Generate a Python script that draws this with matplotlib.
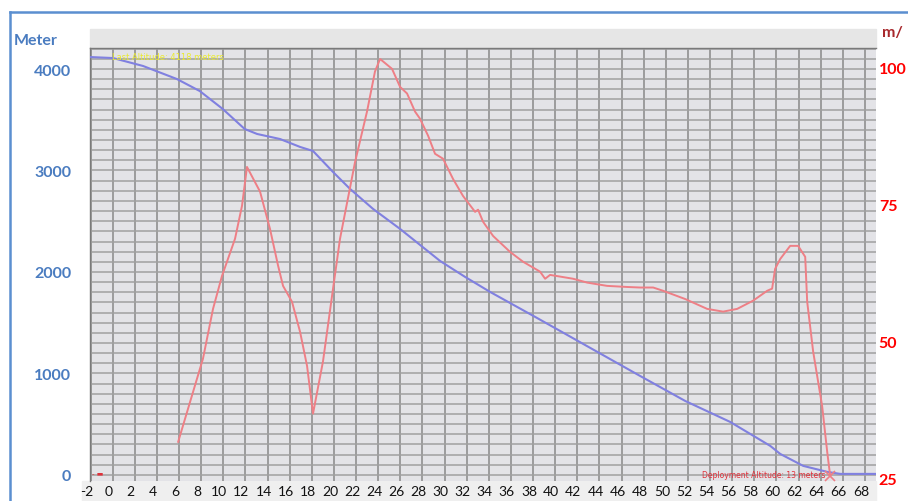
import matplotlib
matplotlib.use('Agg')
import matplotlib.pyplot as plt
from matplotlib.ticker import MultipleLocator, FixedLocator
import matplotlib.transforms as mtransforms
from matplotlib.patches import Rectangle
from matplotlib.lines import Line2D

# ---------------- data ----------------
alt_x = [-2.05, 0.03, 2.74, 5.81, 7.87, 9.95, 11.93, 13.05, 15.13, 16.94, 18.11,
         19.92, 21.46, 23.54, 25.98, 29.6, 31.86, 34.12, 38.19, 47.68, 51.75,
         55.82, 59.44, 60.34, 62.42, 64.59, 65.77, 69.0]
alt_m = [4118, 4108, 4030, 3901, 3783, 3606, 3409, 3360, 3310, 3232, 3192,
         2985, 2818, 2621, 2424, 2108, 1951, 1803, 1557, 975, 729,
         522, 286, 207, 89, 30, 10, 10]

spd_x = [5.92, 8.16, 9.07, 9.88, 11.06, 11.69, 12.14, 13.32, 14.22, 14.95, 15.40,
         16.21, 16.94, 17.57, 18.11, 19.01, 19.92, 20.55, 21.91, 22.99, 23.71,
         24.17, 24.89, 25.25, 25.98, 26.61, 27.33, 27.78, 28.51, 29.14, 29.86,
         30.77, 31.67, 32.76, 33.03, 33.48, 34.39, 35.92, 37.10, 38.63, 39.09,
         39.54, 41.62, 42.89, 44.69, 46.50, 47.68, 48.86, 49.76, 51.75, 53.74,
         55.18, 56.45, 57.89, 59.16, 59.61, 59.88, 60.34, 61.24, 61.96, 62.60,
         62.78, 63.32, 64.13, 64.59, 64.86]
spd_v = [31.75, 46.9, 56.0, 62.0, 68.8, 74.8, 81.9, 77.4, 70.6, 63.9, 60.2,
         57.3, 51.8, 45.6, 36.9, 46.4, 59.7, 68.8, 82.8, 92.0, 99.3,
         101.6, 100.4, 99.8, 96.5, 95.3, 92.0, 90.7, 87.6, 84.3, 83.4,
         79.7, 76.6, 73.7, 74.1, 71.9, 69.3, 66.4, 64.6, 62.8, 61.5,
         62.2, 61.5, 60.8, 60.2, 60.0, 59.9, 59.9, 59.3, 57.8, 56.0,
         55.5, 56.0, 57.5, 59.3, 59.7, 63.3, 65.1, 67.5, 67.5, 65.5,
         57.3, 48.2, 38.3, 29.9, 25.5]

x_ticks = list(range(-2, 70, 2))
left_ticks = [0, 1000, 2000, 3000, 4000]
right_ticks = [25, 50, 75, 100]

# ---------------- figure ----------------
W, H = 908, 502
fig = plt.figure(figsize=(W / 100, H / 100), dpi=100)


def fx(px):
    return px / W


def fy(py):
    return 1 - py / H


# header band and x-label band (behind everything)
fig.patches.append(Rectangle((fx(90), fy(49)), fx(876) - fx(90), fy(30) - fy(49),
                             transform=fig.transFigure, color='#e6e6e6', zorder=-2))
fig.patches.append(Rectangle((fx(82), fy(502)), fx(876) - fx(82), fy(482) - fy(502),
                             transform=fig.transFigure, color='#efefef', zorder=-2))

# blue outer frame
fig.add_artist(Line2D([fx(10), 1.0], [fy(13), fy(13)], color='#5b8fd0', lw=1.8,
                      transform=fig.transFigure))
fig.add_artist(Line2D([fx(10), fx(10)], [fy(13), 0.0], color='#5b8fd0', lw=1.8,
                      transform=fig.transFigure))

ax = fig.add_axes([fx(90), fy(482), fx(876) - fx(90), fy(49) - fy(482)])
ax.set_facecolor('#e3e3e7')
ax.set_xlim(-2.05, 69.0)
ax.set_ylim(-60, 4207)
ax.xaxis.set_major_locator(FixedLocator(x_ticks))
ax.xaxis.set_ticklabels([])
ax.yaxis.set_major_locator(FixedLocator(left_ticks))
ax.yaxis.set_minor_locator(MultipleLocator(100))
ax.set_yticklabels([str(v) for v in left_ticks])
ax.grid(True, which='major', axis='x', color='#909090', lw=1.2)
ax.grid(True, which='both', axis='y', color='#a0a0a0', lw=1.1)
ax.set_axisbelow(True)
ax.tick_params(which='both', length=0)
ax.tick_params(axis='y', pad=13.5, labelsize=11.5, labelcolor='#4a7cc0')
for lab in ax.get_yticklabels():
    lab.set_fontweight('bold')
    lab.set_family('Lato')
for s in ax.spines.values():
    s.set_color('#7a7a7a')
    s.set_linewidth(1.0)
ax.spines['right'].set_visible(False)
ax.spines['bottom'].set_visible(False)

# x tick labels placed manually (slightly left of grid lines)
trans = mtransforms.blended_transform_factory(ax.transData, ax.transAxes) + \
    mtransforms.ScaledTranslation(-0.04, 0, fig.dpi_scale_trans)
for v in x_ticks:
    ax.text(v, -0.024, str(v), transform=trans, ha='center', va='center',
            fontsize=10, color='#111111', family='Lato', clip_on=False, zorder=5)

ax.plot(alt_x, alt_m, color='#8080e0', lw=1.5, zorder=3)

ax2 = ax.twinx()
ax2.set_ylim(24.6, 103.6)
ax2.yaxis.set_major_locator(FixedLocator(right_ticks))
ax2.set_yticklabels([str(v) for v in right_ticks])
ax2.tick_params(axis='y', length=0, pad=2, labelsize=11.5, labelcolor='#ff0000')
for lab in ax2.get_yticklabels():
    lab.set_fontweight('bold')
    lab.set_family('Lato')
for s in ax2.spines.values():
    s.set_visible(False)
ax2.plot(spd_x, spd_v, color='#ee7f86', lw=1.4, zorder=3)
ax2.plot([spd_x[-1]], [spd_v[-1]], marker='x', color='#ee7f86', ms=7, mew=1.2)

# axis titles
fig.text(fx(14), fy(41), 'Meter', ha='left', va='center', fontsize=11.5,
         fontweight='bold', color='#4a7cc0', family='Lato')
fig.text(fx(882), fy(33), 'm/', ha='left', va='center', fontsize=11.5,
         fontweight='bold', color='#a8282c', family='Lato')

# faint annotations
fig.text(fx(112), fy(57), 'Last Altitude: 4118 meters', ha='left', va='center',
         fontsize=6, color='#eaea30')
fig.text(fx(702), fy(476), 'Deployment Altitude: 13 meters', ha='left', va='center',
         fontsize=5.5, color='#e0303a')
fig.text(fx(92), fy(474), '- \u25ac', ha='left', va='center', fontsize=5,
         color='#e0303a')

fig.savefig('out.png', dpi=100)
